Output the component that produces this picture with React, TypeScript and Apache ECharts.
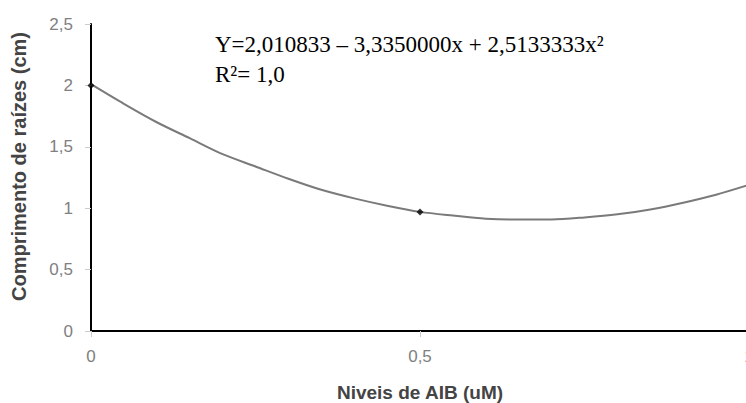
import React, { useEffect, useRef } from "react";
import * as echarts from "echarts";

const curveX = [0, 0.05, 0.1, 0.15, 0.2, 0.25, 0.3, 0.35, 0.4, 0.45, 0.5, 0.55, 0.6, 0.65, 0.7, 0.75, 0.8, 0.85, 0.9, 0.95, 1.0];
const curveY = [2.01, 1.85, 1.70, 1.57, 1.44, 1.34, 1.24, 1.15, 1.08, 1.02, 0.97, 0.94, 0.915, 0.907, 0.908, 0.925, 0.95, 0.99, 1.045, 1.11, 1.19];
const obsX = [0, 0.5];
const obsY = [2.0, 0.97];
const equationLines = ["Y=2,010833 – 3,3350000x + 2,5133333x²", "R²= 1,0"];
const xTitle = "Niveis de AIB (uM)";
const yTitle = "Comprimento de raízes (cm)";

const fmt = (v: number) => String(v).replace(".", ",");

export default function App() {
  const ref = useRef<HTMLDivElement>(null);
  useEffect(() => {
    if (!ref.current) return;
    const chart = echarts.init(ref.current, null, { renderer: "svg" });
    chart.setOption({
      animation: false,
      backgroundColor: "#fff",
      grid: { left: 91, top: 24, width: 658, height: 307, containLabel: false, outerBoundsMode: "none" },
      xAxis: {
        type: "value",
        min: 0,
        max: 1,
        interval: 0.5,
        name: xTitle,
        nameLocation: "middle",
        nameGap: 52,
        nameTextStyle: { fontFamily: "Liberation Sans, Arial", fontWeight: "bold", fontSize: 19, color: "#444" },
        axisLine: { lineStyle: { color: "#000", width: 2 } },
        axisTick: { show: true, length: 6, lineStyle: { color: "#ccc" } },
        axisLabel: { formatter: fmt, margin: 17, fontFamily: "Liberation Sans, Arial", fontSize: 17, color: "#808080" },
        splitLine: { show: false },
      },
      yAxis: {
        type: "value",
        min: 0,
        max: 2.5,
        interval: 0.5,
        name: yTitle,
        nameLocation: "middle",
        nameGap: 62,
        nameTextStyle: {
          fontFamily: "Liberation Sans, Arial",
          fontWeight: "bold",
          fontSize: 20,
          color: "#444",
          padding: [0, 0, 0, 22],
        },
        axisLine: { show: true, lineStyle: { color: "#000", width: 2 } },
        axisTick: { show: true, length: 6, lineStyle: { color: "#ccc" } },
        axisLabel: { formatter: fmt, margin: 18, fontFamily: "Liberation Sans, Arial", fontSize: 17, color: "#808080" },
        splitLine: { show: false },
      },
      graphic: [
        {
          type: "text",
          left: 215,
          top: 29,
          style: {
            text: equationLines.join("\n"),
            font: "23px 'Liberation Serif', 'Times New Roman', serif",
            fill: "#000",
            lineHeight: 30,
          },
        },
      ],
      series: [
        {
          type: "line",
          smooth: 0.3,
          showSymbol: false,
          data: curveX.map((x, i) => [x, curveY[i]]),
          lineStyle: { color: "#7a7a7a", width: 2 },
          z: 2,
        },
        {
          type: "scatter",
          symbol: "diamond",
          symbolSize: 7,
          data: obsX.map((x, i) => [x, obsY[i]]),
          itemStyle: { color: "#000" },
          z: 3,
        },
      ],
    });
    return () => chart.dispose();
  }, []);
  return <div ref={ref} style={{ width: 746, height: 403, position: "absolute", left: 0, top: 0 }} />;
}
